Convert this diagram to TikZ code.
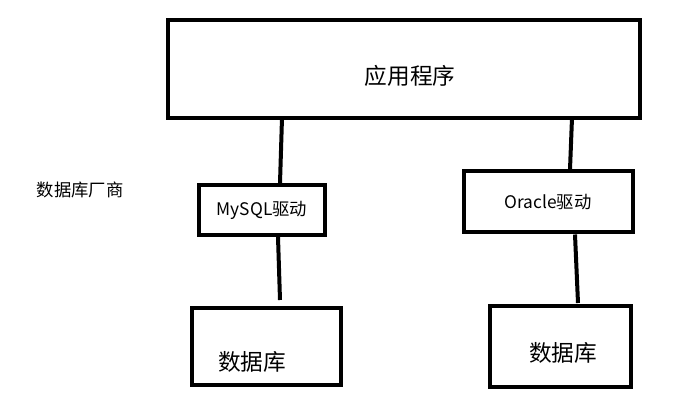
\documentclass[tikz,border=0pt]{standalone}
\usepackage{fontspec}
\setmainfont{Noto Sans CJK SC}
\begin{document}
\begin{tikzpicture}[x=0.75pt,y=-0.75pt,
 bx/.style={draw=black,line width=3pt,inner sep=0pt},
 ln/.style={line width=3pt}]
\useasboundingbox (0,0) rectangle (679,409);
\node[bx,minimum width=472pt*0.75,minimum height=98pt*0.75] (app) at (404,69) {};
\node[font=\fontsize{17}{20}\selectfont] at (410,76) {应用程序};
\node[font=\fontsize{13}{16}\selectfont] (vendor) at (80,190) {数据库厂商};
\node[bx,minimum width=126pt*0.75,minimum height=50pt*0.75,font=\fontsize{13}{16}\selectfont] (my) at (262,210) {MySQL驱动};
\node[bx,minimum width=169pt*0.75,minimum height=61pt*0.75,font=\fontsize{13}{16}\selectfont] (or) at (548,202) {Oracle驱动};
\node[bx,minimum width=149pt*0.75,minimum height=77pt*0.75] (db1) at (266,347) {};
\node[font=\fontsize{17}{20}\selectfont] at (252,362) {数据库};
\node[bx,minimum width=141pt*0.75,minimum height=81pt*0.75] (db2) at (560,347) {};
\node[font=\fontsize{17}{20}\selectfont] at (563,353) {数据库};
\coordinate (a1) at (282,118); \coordinate (a2) at (572,118);
\draw[ln] (a1) -- (my.north -| 280,0);
\draw[ln] (a2) -- (or.north -| 570,0);
\draw[ln] (my.south -| 278,0) -- (280,300);
\draw[ln] (or.south -| 575,0) -- (578,303);
\end{tikzpicture}
\end{document}
